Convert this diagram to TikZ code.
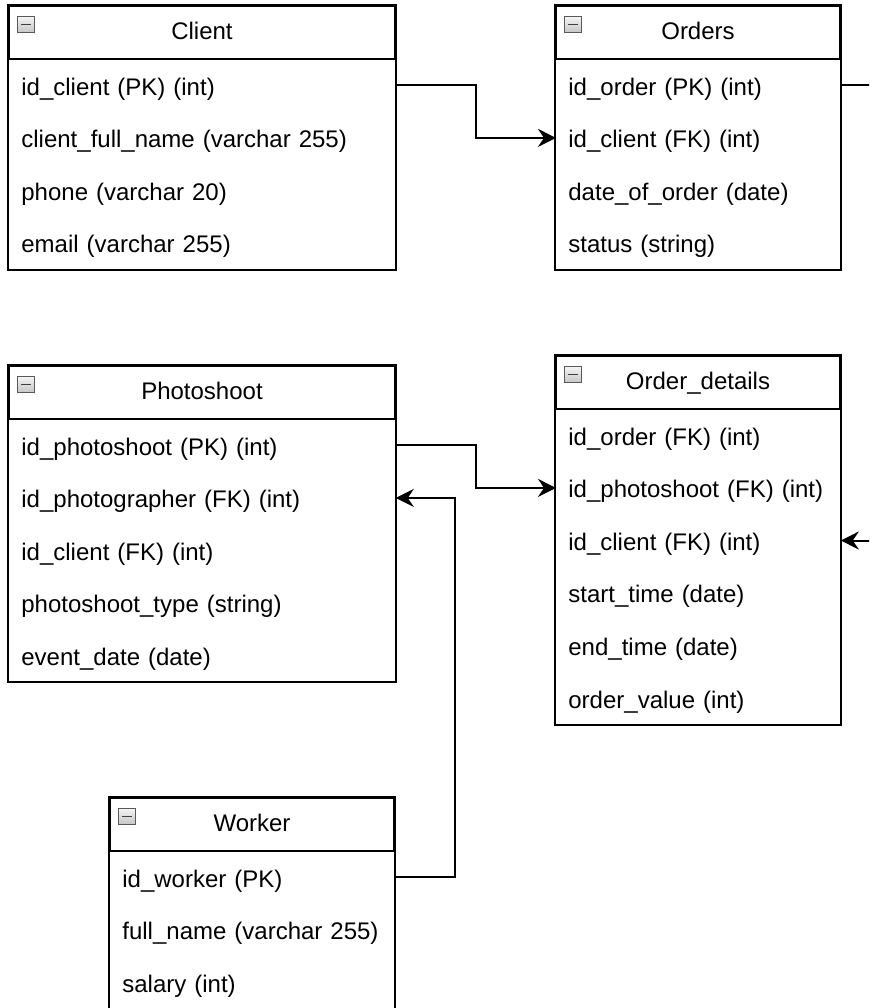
\documentclass[tikz,border=0pt]{standalone}
\usepackage{fontspec}
\setmainfont{Liberation Sans}
\usetikzlibrary{arrows.meta}

\begin{document}
\begin{tikzpicture}[x=1pt,y=-1pt]
\tikzset{hdr/.style = {draw=black, line width=1pt, minimum width=#1, minimum height=26.5pt, inner sep=0pt, text height=8pt, text depth=0.6pt, font=\fontsize{12}{14}\selectfont}}
\tikzset{row/.style = {anchor=west, text width=#1, align=left, inner xsep=6pt, inner ysep=0pt, minimum height=26.3pt, text height=12pt, text depth=2.2pt, font=\fontsize{12}{14}\selectfont}}
\tikzset{minus/.style = {anchor=north west, draw=gray!70!black, top color=gray!8, bottom color=gray!45, minimum width=8.5pt, minimum height=8pt, inner sep=0pt,
    path picture={\draw[line width=0.9pt, black!75] ([xshift=1.6pt]path picture bounding box.west) -- ([xshift=-1.6pt]path picture bounding box.east);}}}
\tikzset{frame/.style = {draw=black, line width=1pt}}
\tikzset{link/.style = {draw=black, line width=1pt}}
\tikzset{fk/.style = {link, -{Stealth[length=9pt, width=9pt, inset=3pt]}}}

\useasboundingbox (0,0) rectangle (434.5,504);
\fill[white] (0,0) rectangle (434.5,504);
\clip (0,0) rectangle (434.5,504);

% Client
\node[hdr=193pt] (chdr) at (101,16.25) {Client};
\node[minus] (cmin) at ([shift={(4.5,5.5)}]chdr.north west) {};

    \node[row=181pt] (c1) at (4.5,42.65) {id\_client (PK) (int)};
    \node[row=181pt] (c2) at (4.5,68.95) {client\_full\_name (varchar 255)};
    \node[row=181pt] (c3) at (4.5,95.25) {phone (varchar 20)};
    \node[row=181pt] (c4) at (4.5,121.55) {email (varchar 255)};

\draw[frame] (chdr.north west) rectangle (c4.south east);

% Orders
\node[hdr=142pt] (ohdr) at (349,16.25) {Orders};
\node[minus] (omin) at ([shift={(4.5,5.5)}]ohdr.north west) {};

    \node[row=130pt] (o1) at (278,42.65) {id\_order (PK) (int)};
    \node[row=130pt] (o2) at (278,68.95) {id\_client (FK) (int)};
    \node[row=130pt] (o3) at (278,95.25) {date\_of\_order (date)};
    \node[row=130pt] (o4) at (278,121.55) {status (string)};

\draw[frame] (ohdr.north west) rectangle (o4.south east);

% Photoshoot
\node[hdr=193pt] (phdr) at (101,196.25) {Photoshoot};
\node[minus] (pmin) at ([shift={(4.5,5.5)}]phdr.north west) {};

    \node[row=181pt] (p1) at (4.5,222.65) {id\_photoshoot (PK) (int)};
    \node[row=181pt] (p2) at (4.5,248.95) {id\_photographer (FK) (int)};
    \node[row=181pt] (p3) at (4.5,275.25) {id\_client (FK) (int)};
    \node[row=181pt] (p4) at (4.5,301.55) {photoshoot\_type (string)};
    \node[row=181pt] (p5) at (4.5,327.85) {event\_date (date)};

\draw[frame] (phdr.north west) rectangle (p5.south east);

% Order_details
\node[hdr=142pt] (dhdr) at (349,191.25) {Order\_details};
\node[minus] (dmin) at ([shift={(4.5,5.5)}]dhdr.north west) {};

    \node[row=130pt] (d1) at (278,217.65) {id\_order (FK) (int)};
    \node[row=130pt] (d2) at (278,243.95) {id\_photoshoot (FK) (int)};
    \node[row=130pt] (d3) at (278,270.25) {id\_client (FK) (int)};
    \node[row=130pt] (d4) at (278,296.55) {start\_time (date)};
    \node[row=130pt] (d5) at (278,322.85) {end\_time (date)};
    \node[row=130pt] (d6) at (278,349.15) {order\_value (int)};

\draw[frame] (dhdr.north west) rectangle (d6.south east);

% Worker
\node[hdr=142pt] (whdr) at (126,412.25) {Worker};
\node[minus] (wmin) at ([shift={(4.5,5.5)}]whdr.north west) {};

    \node[row=130pt] (w1) at (55,438.65) {id\_worker (PK)};
    \node[row=130pt] (w2) at (55,464.95) {full\_name (varchar 255)};
    \node[row=130pt] (w3) at (55,491.25) {salary (int)};

\draw[frame] (whdr.north west) rectangle (w3.south east);

% links
\coordinate (outR) at (440,42.65);
\coordinate (inR) at (440,270.25);

\draw[fk] (c1.east) -- ++(40,0) |- (o2.west);
\draw[fk] (p1.east) -- ++(40,0) |- (d2.west);
\draw[fk] (w1.east) -- ++(30,0) |- (p2.east);
\draw[link] (o1.east) -- (outR);
\draw[fk] (inR) -- (d3.east);

\end{tikzpicture}
\end{document}
